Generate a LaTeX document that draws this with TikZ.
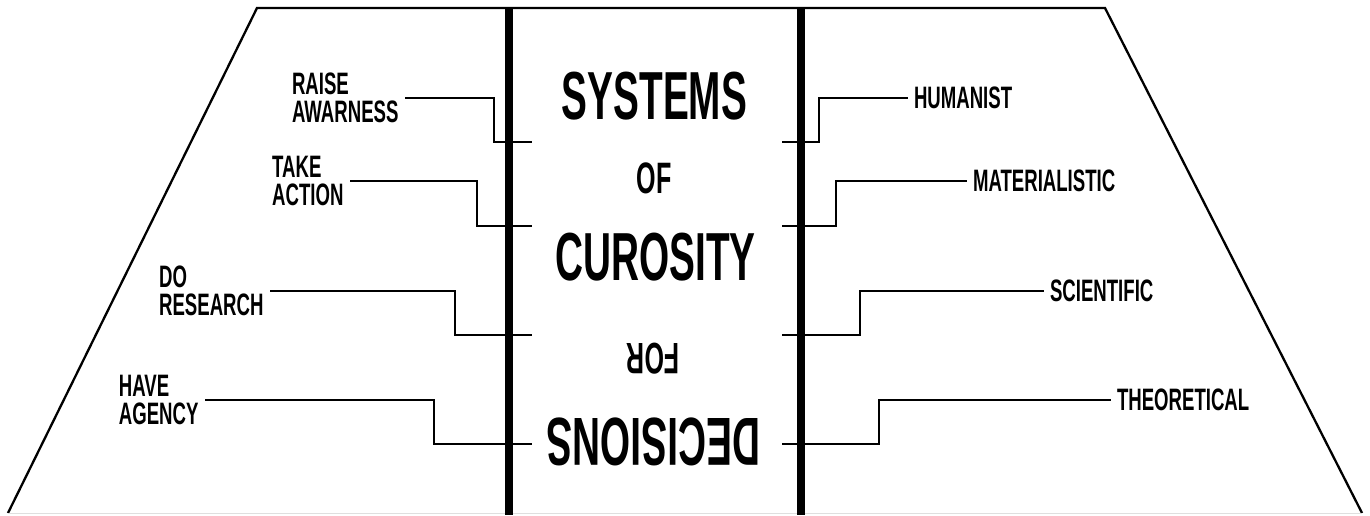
\documentclass[tikz,border=0pt]{standalone}
\usepackage{fontspec}
\newfontfamily\headf[FakeStretch=0.57]{Liberation Sans}
\newfontfamily\labf[FakeStretch=0.6]{Liberation Sans}
\begin{document}
\begin{tikzpicture}[x=1pt,y=-1pt,
  conn/.style={line width=1.9pt},
  bar/.style={line width=7.5pt},
  big/.style={inner sep=0pt, font=\headf\bfseries\fontsize{68}{68}\selectfont},
  mid/.style={inner sep=0pt, font=\headf\bfseries\fontsize{44}{44}\selectfont},
  lab/.style={inner sep=0pt, align=left, font=\labf\bfseries\fontsize{31}{28}\selectfont},
  ll/.style={lab, anchor=east, outer xsep=6.5pt},
  rl/.style={lab, anchor=west, outer xsep=6pt}]
\useasboundingbox (0,0) rectangle (1370,515);
% trapezoid
\draw[conn, line width=2.3pt] (8,513) -- (257,8) -- (1105,8) -- (1362,513);
\draw[gray!25, line width=1.5pt] (8,513.5) -- (1362,513.5);
% bars
\draw[bar] (509,8) -- (509,515);
\draw[bar] (801,8) -- (801,515);
% central words
\node[big] (sys) at (654.5,96) {SYSTEMS};
\node[mid] (of) at (654,178.5) {OF};
\node[big] (cur) at (655.5,257.5) {CUROSITY};
\node[mid, rotate=180] (for) at (653,359) {FOR};
\node[big, rotate=180] (dec) at (653.5,441.5) {DECISIONS};
% left labels
\node[ll] (ra) at (405,98) {RAISE\\AWARNESS};
\node[ll] (ta) at (350,181) {TAKE\\ACTION};
\node[ll] (dr) at (270,291) {DO\\RESEARCH};
\node[ll] (ha) at (205,400) {HAVE\\AGENCY};
\coordinate (lk1) at (494,142); \coordinate (le1) at (532,142);
\coordinate (lk2) at (477,226); \coordinate (le2) at (532,226);
\coordinate (lk3) at (455,335); \coordinate (le3) at (532,335);
\coordinate (lk4) at (434,444); \coordinate (le4) at (532,444);
\draw[conn] (ra.east) -| (lk1) -- (le1);
\draw[conn] (ta.east) -| (lk2) -- (le2);
\draw[conn] (dr.east) -| (lk3) -- (le3);
\draw[conn] (ha.east) -| (lk4) -- (le4);
% right labels
\node[rl] (hu) at (908,98) {HUMANIST};
\node[rl] (ma) at (967,181) {MATERIALISTIC};
\node[rl] (sc) at (1044,291) {SCIENTIFIC};
\node[rl] (th) at (1111,400) {THEORETICAL};
\coordinate (rs1) at (782,142); \coordinate (rk1) at (819,142);
\coordinate (rs2) at (782,226); \coordinate (rk2) at (836,226);
\coordinate (rs3) at (782,335); \coordinate (rk3) at (860,335);
\coordinate (rs4) at (782,444); \coordinate (rk4) at (879,444);
\draw[conn] (rs1) -- (rk1) |- (hu.west);
\draw[conn] (rs2) -- (rk2) |- (ma.west);
\draw[conn] (rs3) -- (rk3) |- (sc.west);
\draw[conn] (rs4) -- (rk4) |- (th.west);
\end{tikzpicture}
\end{document}
